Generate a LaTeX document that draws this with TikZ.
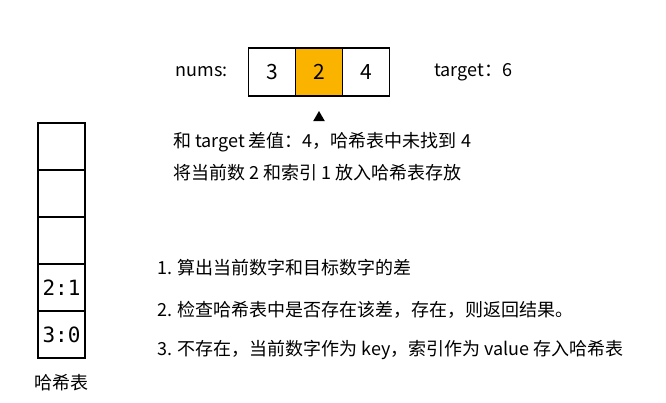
\documentclass[tikz,border=0pt]{standalone}
\usepackage{fontspec}
\setmainfont{Noto Sans CJK SC}
\newfontfamily\codefont{DejaVu Sans Mono}
\usetikzlibrary{chains,positioning,shapes.geometric}
\definecolor{pick}{RGB}{250,180,0}

\begin{document}
\begin{tikzpicture}[x=1pt,y=-1pt,
  every node/.style={inner sep=0pt},
  cell/.style={draw,line width=1.2pt,minimum width=47pt,minimum height=48pt,
    font=\fontsize{21}{24}\selectfont},
  slot/.style={draw,line width=1.2pt,minimum size=47pt,
    font=\codefont\fontsize{21}{24}\selectfont},
  txt/.style={anchor=west,font=\fontsize{18}{22}\selectfont},
  pointer/.style={isosceles triangle,isosceles triangle apex angle=60,
    shape border rotate=90,fill=black,minimum width=11pt,minimum height=10pt},
]
\useasboundingbox (0,0) rectangle (666,402);

% the array
\begin{scope}[shift={(272,72)},start chain=going right,node distance=-1.2pt]
\foreach \v/\c [count=\i] in {3/white,2/pick,4/white}
\node[cell,fill=\c,on chain] (n\i) {\v};
\end{scope}
\node[left=20pt of n1,font=\fontsize{18}{22}\selectfont] (nums) {nums:};
\node[right=44pt of n3,font=\fontsize{18}{22}\selectfont] (target) {target：6};
\node[pointer,below=14pt of n2] (ptr) {};

% the hash table
\begin{scope}[shift={(61.5,146.5)},start chain=going below,node distance=-1.2pt]
\foreach \e [count=\j] in {{},{},{},2:1,3:0}
\node[slot,on chain] (h\j) {\e};
\end{scope}
\node[below=16pt of h5,font=\fontsize{18}{22}\selectfont] (hname) {哈希表};

% the notes
\node[txt] (note1) at (173,142) {和 target 差值：4，哈希表中未找到 4};
\node[txt] (note2) at (173,173) {将当前数 2 和索引 1 放入哈希表存放};

% the steps
\node[txt] (step1) at (157,268) {1. 算出当前数字和目标数字的差};
\node[txt] (step2) at (157,310) {2. 检查哈希表中是否存在该差，存在，则返回结果。};
\node[txt] (step3) at (157,350) {3. 不存在，当前数字作为 key，索引作为 value 存入哈希表};
\end{tikzpicture}
\end{document}
